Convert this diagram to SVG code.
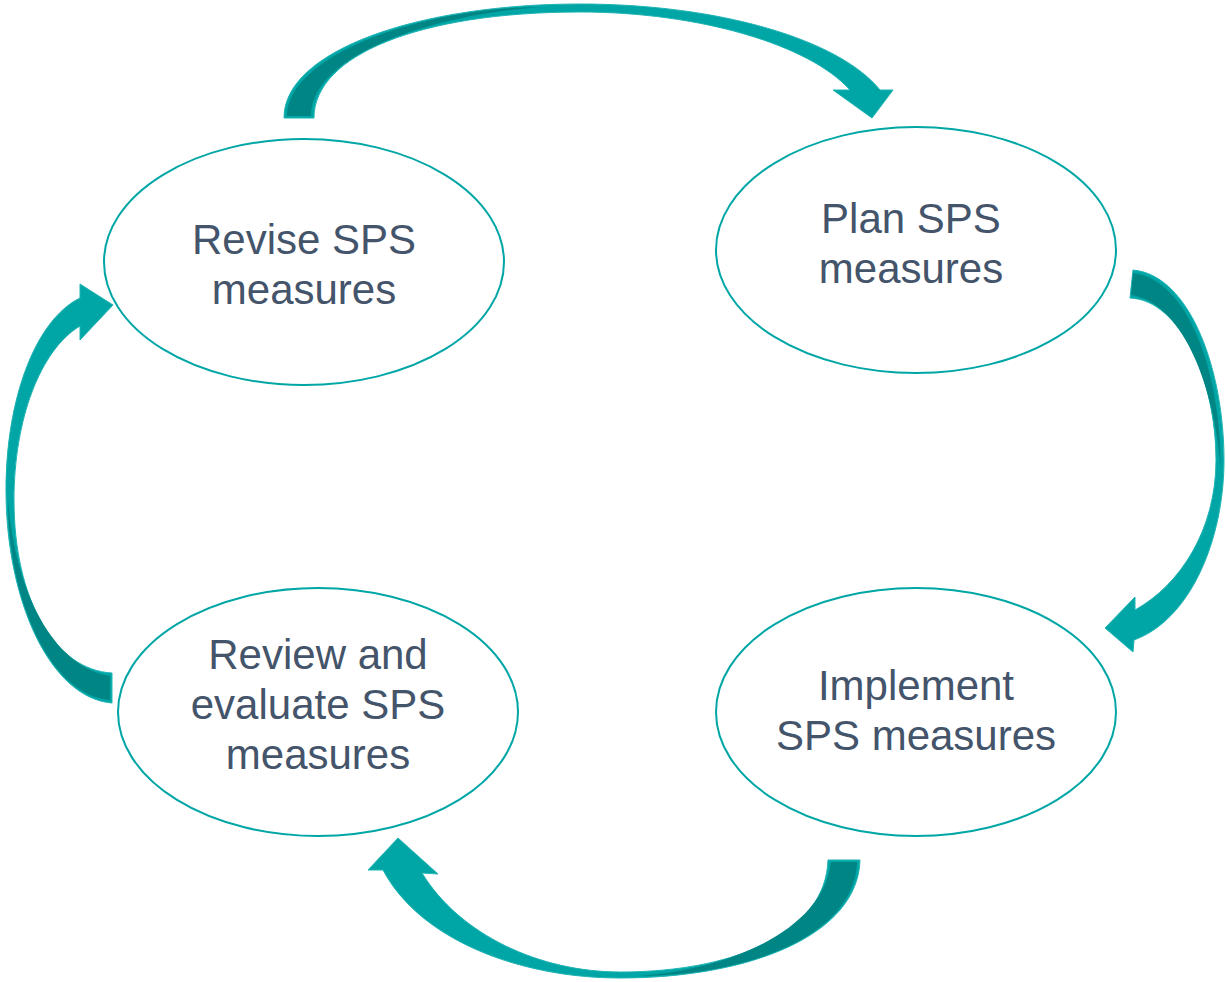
<svg xmlns="http://www.w3.org/2000/svg" width="1226" height="982" viewBox="0 0 1226 982">
<style>
.node{fill:#fff;stroke:#00A6A6;stroke-width:2}
.lbl{font-family:"Liberation Sans",Arial,sans-serif;font-size:42px;fill:#44546A;text-anchor:middle}
.arr{fill:#00A6A6;stroke:#1FB3B3;stroke-width:1}
.dark{fill:#008585}
</style>
<rect width="1226" height="982" fill="#fff"/>
<g id="connectors">
<g id="arrow-top">
<path class="arr" d="M284,118 C284,50 420,4 580,4 C720,4 840,40 880,90 L893,90 L872,118 L833,90 L850,90 C810,45 700,12 580,12 C420,12 314,55 314,118 Z"/>
<path class="dark" d="M287,116 C288,55 420,8 540,7 C430,15 311,55 311,116 Z"/>
</g>
<g id="arrow-right">
<path class="arr" d="M1133,270 C1190,275 1224,370 1224,460 C1224,540 1190,620 1134,640 L1133,652 L1105,628 L1135,597 L1135,610 C1180,585 1216,530 1216,460 C1216,380 1180,300 1130,298 Z"/>
<path class="dark" d="M1133,273 C1188,280 1221,370 1221,470 C1214,380 1180,302 1131,295 Z"/>
</g>
<g id="arrow-bottom">
<path class="arr" d="M860,860 C858,935 750,978 620,978 C520,978 420,940 383,870 L368,870 L398,838 L438,874 L422,873 C460,935 540,972 620,972 C740,972 826,930 828,860 Z"/>
<path class="dark" d="M857,862 C855,935 750,975 640,976 C740,968 824,925 831,862 Z"/>
</g>
<g id="arrow-left">
<path class="arr" d="M112,703 C50,698 6,600 6,490 C6,400 35,320 80,298 L80,284 L113,305 L80,340 L80,326 C40,350 14,420 14,500 C14,600 55,670 112,673 Z"/>
<path class="dark" d="M110,700 C50,695 8,600 8,500 C16,600 58,668 110,676 Z"/>
</g>
</g>
<g id="node-revise">
<ellipse class="node" cx="304" cy="262" rx="200" ry="123"/>
<text class="lbl" x="304" y="254">Revise SPS</text>
<text class="lbl" x="304" y="304">measures</text>
</g>
<g id="node-plan">
<ellipse class="node" cx="916" cy="250" rx="200" ry="123"/>
<text class="lbl" x="911" y="233">Plan SPS</text>
<text class="lbl" x="911" y="283">measures</text>
</g>
<g id="node-implement">
<ellipse class="node" cx="916" cy="712" rx="200" ry="124"/>
<text class="lbl" x="916" y="700">Implement</text>
<text class="lbl" x="916" y="750">SPS measures</text>
</g>
<g id="node-review">
<ellipse class="node" cx="318" cy="712" rx="200" ry="124"/>
<text class="lbl" x="318" y="669">Review and</text>
<text class="lbl" x="318" y="719">evaluate SPS</text>
<text class="lbl" x="318" y="769">measures</text>
</g>
</svg>
